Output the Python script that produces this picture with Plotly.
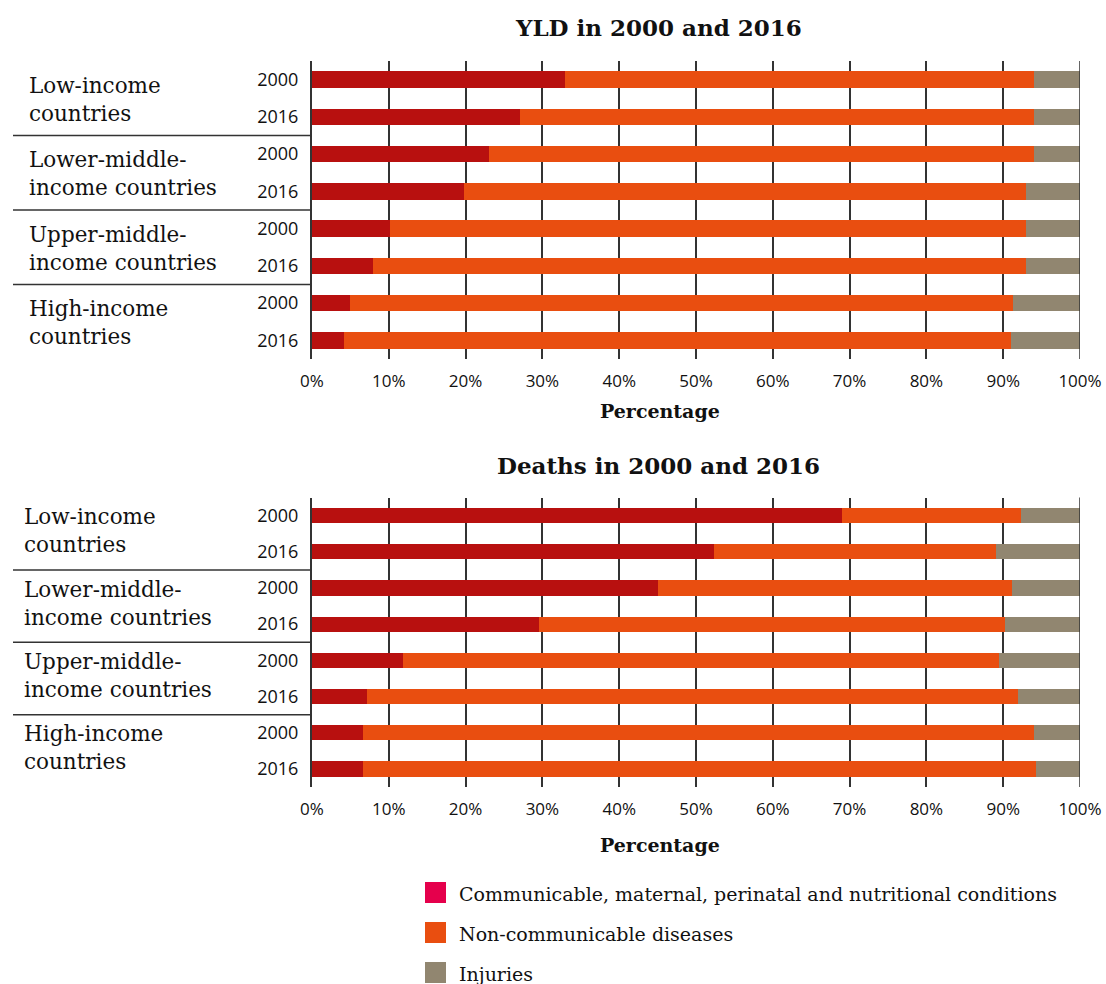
import plotly.graph_objects as go
from plotly.subplots import make_subplots

# ---------------- data ----------------
groups = ["Low-income<br>countries", "Lower-middle-<br>income countries",
          "Upper-middle-<br>income countries", "High-income<br>countries"]
years = ["2000", "2016"]
series_names = ["Communicable, maternal, perinatal and nutritional conditions",
                "Non-communicable diseases", "Injuries"]

yld_comm = [33.0, 27.1, 23.0, 19.8, 10.1, 8.0, 4.9, 4.2]
yld_ncd = [61.0, 66.9, 71.0, 73.2, 82.9, 85.0, 86.4, 86.8]
yld_inj = [6.0, 6.0, 6.0, 7.0, 7.0, 7.0, 8.7, 9.0]

deaths_comm = [69.0, 52.4, 45.1, 29.5, 11.8, 7.2, 6.6, 6.6]
deaths_ncd = [23.3, 36.7, 46.1, 60.7, 77.7, 84.7, 87.4, 87.7]
deaths_inj = [7.7, 10.9, 8.8, 9.8, 10.5, 8.1, 6.0, 5.7]

x_ticks = [0, 10, 20, 30, 40, 50, 60, 70, 80, 90, 100]
x_tick_labels = ["0%", "10%", "20%", "30%", "40%", "50%", "60%", "70%", "80%", "90%", "100%"]

# ---------------- style ----------------
bar_colors = ["#B8100F", "#E94E10", "#918670"]
legend_colors = ["#E5004C", "#E94E10", "#918670"]
W, H = 1106, 984
L_PX, R_PX = 312, 1080
T_PX, B_PX = 61, 787
SERIF = "DejaVu Serif"
SANS = "Open Sans"


def px2x(px):
    return (px - L_PX) / (R_PX - L_PX)


def py2y(py):
    return (B_PX - py) / (B_PX - T_PX)


top_dom = [py2y(359), 1.0]
bot_dom = [0.0, py2y(497.5)]

ids = [f"{g}|{y}" for g in range(len(groups)) for y in years]
ytext = [y for g in groups for y in years]

fig = make_subplots(rows=2, cols=1)

panels = [
    (1, [yld_comm, yld_ncd, yld_inj], 0.44),
    (2, [deaths_comm, deaths_ncd, deaths_inj], 0.42),
]
for row, vals, w in panels:
    for name, v, c in zip(series_names, vals, bar_colors):
        fig.add_trace(go.Bar(x=v, y=ids, orientation="h", name=name,
                             marker=dict(color=c, line=dict(width=0)),
                             width=w, showlegend=False,
                             hovertemplate="%{x}%<extra>" + name + "</extra>"),
                      row=row, col=1)

fig.update_layout(
    barmode="stack",
    width=W, height=H,
    margin=dict(l=L_PX, r=W - R_PX, t=T_PX, b=H - B_PX, autoexpand=False),
    plot_bgcolor="white", paper_bgcolor="white",
    showlegend=False,
    font=dict(family=SANS, color="#111"),
)

for i, dom in ((1, top_dom), (2, bot_dom)):
    xa = dict(range=[0, 100], tickvals=x_ticks, ticktext=x_tick_labels,
              showgrid=True, gridcolor="#333333", gridwidth=1.5,
              zeroline=False, showline=False, ticks="",
              ticklabelstandoff=10, automargin=False,
              tickfont=dict(family=SANS, size=17, color="#111"),
              fixedrange=True)
    ya = dict(domain=dom, type="category", categoryorder="array",
              categoryarray=ids, autorange="reversed",
              tickvals=ids, ticktext=ytext, showgrid=False,
              showline=True, linecolor="#333333", linewidth=2,
              ticks="", ticklabelstandoff=8, automargin=False,
              tickfont=dict(family=SANS, size=18, color="#111"),
              fixedrange=True)
    fig.update_xaxes(row=i, col=1, **xa)
    fig.update_yaxes(row=i, col=1, **ya)

annotations = []
shapes = []

# titles and axis titles
for text, py in (("YLD in 2000 and 2016", 27), ("Deaths in 2000 and 2016", 465)):
    annotations.append(dict(text=f"<b>{text}</b>", x=px2x(658), y=py2y(py),
                            xref="paper", yref="paper", xanchor="center",
                            yanchor="middle", showarrow=False,
                            font=dict(family=SERIF, size=23, color="#111")))
for py in (411, 845):
    annotations.append(dict(text="<b>Percentage</b>", x=px2x(660), y=py2y(py),
                            xref="paper", yref="paper", xanchor="center",
                            yanchor="middle", showarrow=False,
                            font=dict(family=SERIF, size=19, color="#111")))

# group labels and separators
for yref, lx, ys in (("y domain", 27, -1), ("y2 domain", 22, 3)):
    n = len(ids)
    for gi, g in enumerate(groups):
        annotations.append(dict(text=g, x=px2x(lx), y=1 - (2 * gi + 1) / n,
                                xref="paper", yref=yref, xanchor="left",
                                yanchor="middle", align="left", showarrow=False,
                                yshift=ys,
                                font=dict(family=SERIF, size=21.5, color="#111")))
        if gi > 0:
            yy = 1 - (2 * gi) / n
            shapes.append(dict(type="line", xref="paper", yref=yref,
                               x0=px2x(13), x1=0, y0=yy, y1=yy,
                               line=dict(color="#333333", width=1.5)))
    # right border line at 100%
    shapes.append(dict(type="line", xref="x" if yref == "y domain" else "x2",
                       yref=yref, x0=100, x1=100, y0=0, y1=1,
                       line=dict(color="#333333", width=1.5), layer="above"))

# legend (drawn swatches + text)
for k, (name, c) in enumerate(zip(series_names, legend_colors)):
    top = 882 + 40 * k
    shapes.append(dict(type="rect", xref="paper", yref="paper",
                       x0=px2x(425), x1=px2x(446), y0=py2y(top), y1=py2y(top + 21),
                       fillcolor=c, line=dict(width=0)))
    annotations.append(dict(text=name, x=px2x(457), y=py2y(top + 12),
                            xref="paper", yref="paper", xanchor="left",
                            yanchor="middle", showarrow=False,
                            font=dict(family=SERIF, size=19, color="#111")))

fig.update_layout(annotations=annotations, shapes=shapes)
fig.write_html("out.html", config={"displayModeBar": False},
               post_script="document.body.style.margin='0';"
                           "document.body.style.overflow='hidden';")
